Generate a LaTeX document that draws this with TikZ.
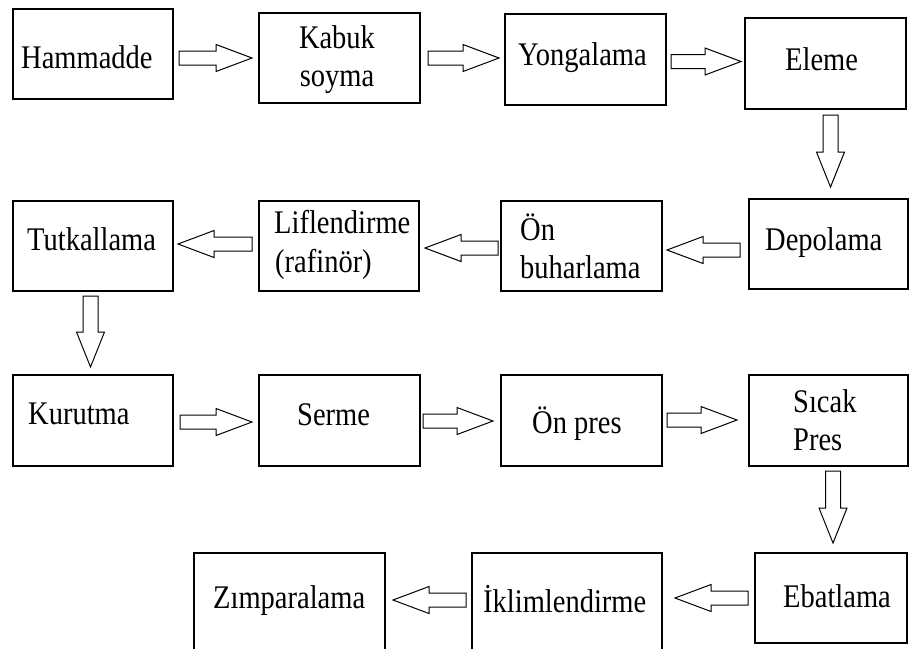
\documentclass[tikz,border=0pt]{standalone}
\usepackage{fontspec}
\usepackage{graphicx}
\setmainfont{Liberation Serif}
\newcommand\sx[1]{\scalebox{0.95}[1.1]{#1}}
\newcommand\arR[3]{\draw[barrow] (#1,#3-7) -- (#2-36,#3-7) -- (#2-36,#3-13.5) -- (#2,#3) -- (#2-36,#3+13.5) -- (#2-36,#3+7) -- (#1,#3+7) -- cycle;}
\newcommand\arL[3]{\draw[barrow] (#1,#3-7) -- (#2+36,#3-7) -- (#2+36,#3-13.5) -- (#2,#3) -- (#2+36,#3+13.5) -- (#2+36,#3+7) -- (#1,#3+7) -- cycle;}
\newcommand\arD[3]{\draw[barrow] (#1-7.5,#2) -- (#1-7.5,#3-35) -- (#1-14,#3-35) -- (#1,#3) -- (#1+14,#3-35) -- (#1+7.5,#3-35) -- (#1+7.5,#2) -- cycle;}
\begin{document}
\begin{tikzpicture}[x=1pt,y=-1pt,
  boxn/.style={draw=black,line width=1.2pt,fill=white},
  barrow/.style={draw=black,line width=1pt,fill=white,line join=miter},
  lbl/.style={inner sep=0pt,anchor=base west,font=\fontsize{30}{36}\selectfont},
  lblc/.style={inner sep=0pt,anchor=base,font=\fontsize{30}{36}\selectfont}]
\useasboundingbox (0,0) rectangle (910,648);
\clip (0,0) rectangle (910,648);
\fill[white] (0,0) rectangle (910,648);
% boxes
\draw[boxn] (13,9) rectangle (173,99);
\draw[boxn] (259,13) rectangle (420,103);
\draw[boxn] (505,14) rectangle (666,105);
\draw[boxn] (745,18) rectangle (906,109);
\draw[boxn] (13,201) rectangle (173,291);
\draw[boxn] (259,201) rectangle (419,291);
\draw[boxn] (501,201) rectangle (662,291);
\draw[boxn] (749,199) rectangle (908,289);
\draw[boxn] (13,375) rectangle (173,466);
\draw[boxn] (259,375) rectangle (420,466);
\draw[boxn] (501,375) rectangle (662,466);
\draw[boxn] (749,375) rectangle (908,466);
\draw[boxn] (194,553) rectangle (385,660);
\draw[boxn] (472,553) rectangle (662,660);
\draw[boxn] (755,553) rectangle (907,643);
% texts
\node[lbl] (tham) at (21,68) {\sx{Hammadde}};
\node[lblc] (tkab1) at (337,48) {\sx{Kabuk}};
\node[lblc] (tkab2) at (337,86) {\sx{soyma}};
\node[lbl] (tyon) at (518,65) {\sx{Yongalama}};
\node[lbl] (tele) at (785,70) {\sx{Eleme}};
\node[lbl] (ttut) at (27,250) {\sx{Tutkallama}};
\node[lbl] (tlif1) at (274,233) {\sx{Liflendirme}};
\node[lbl] (tlif2) at (275,272) {\sx{(rafinör)}};
\node[lbl] (tonb1) at (520,240) {\sx{Ön}};
\node[lbl] (tonb2) at (520,278) {\sx{buharlama}};
\node[lbl] (tdep) at (765,250) {\sx{Depolama}};
\node[lbl] (tkur) at (28,424) {\sx{Kurutma}};
\node[lbl] (tser) at (297,425) {\sx{Serme}};
\node[lbl] (tonp) at (532,433) {\sx{Ön pres}};
\node[lbl] (tsic1) at (793,412) {\sx{Sıcak}};
\node[lbl] (tsic2) at (793,450) {\sx{Pres}};
\node[lbl] (tzim) at (213,608) {\sx{Zımparalama}};
\node[lbl] (tikl) at (483,612) {\sx{İklimlendirme}};
\node[lbl] (teba) at (783,607) {\sx{Ebatlama}};
% arrows
\arR{179}{252}{58}
\arR{428}{499}{58}
\arR{671}{741}{61.5}
\arD{830.5}{115}{187}
\arL{740}{667}{250}
\arL{498}{425}{248}
\arL{252}{178}{244}
\arD{90.5}{296}{367}
\arR{180}{252}{422}
\arR{423}{493}{421}
\arR{667}{737}{420}
\arD{833}{471}{543}
\arL{748}{675}{598}
\arL{466}{393}{600}
\end{tikzpicture}
\end{document}
